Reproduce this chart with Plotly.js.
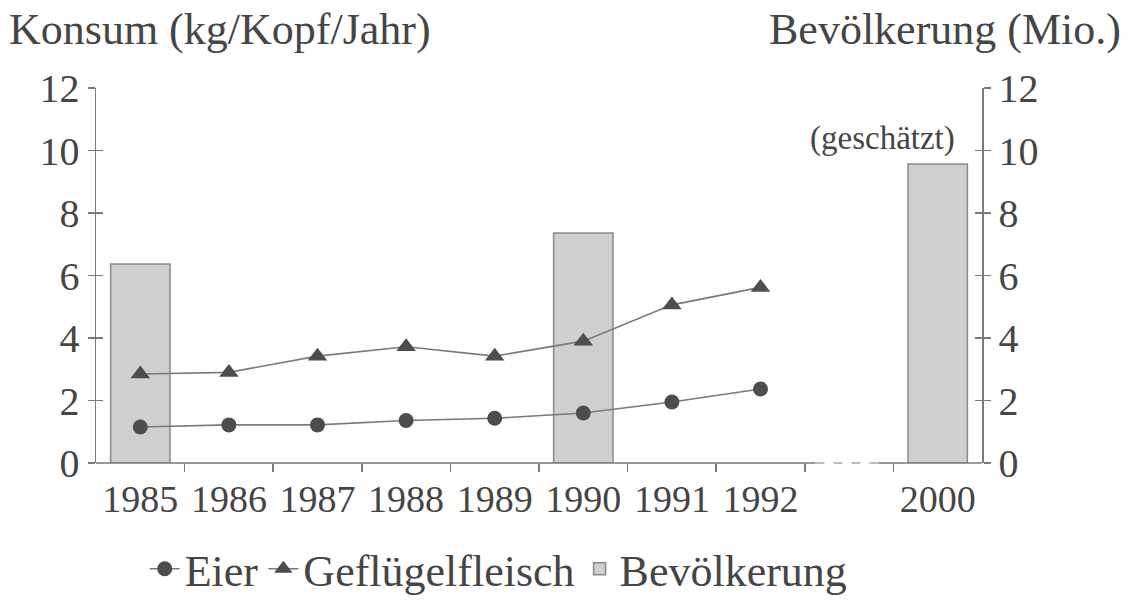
<!DOCTYPE html>
<html>
<head>
<meta charset="utf-8">
<script src="https://cdn.plot.ly/plotly-3.0.1.min.js"></script>
<style>html,body{margin:0;padding:0;background:#fff;}#chart{width:1133px;height:612px;}</style>
</head>
<body>
<div id="chart"></div>
<script>
// Data
const years = ['1985','1986','1987','1988','1989','1990','1991','1992'];
const eier = [1.15, 1.22, 1.22, 1.36, 1.43, 1.6, 1.95, 2.37];
const gefluegel = [2.85, 2.9, 3.42, 3.72, 3.42, 3.9, 5.06, 5.62];
const popYears = ['1985','1990','2000'];
const bevoelkerung = [6.37, 7.36, 9.57];
const xLabels = ['1985','1986','1987','1988','1989','1990','1991','1992','2000'];

// category -> slot on the axis (one empty slot before 2000)
const slot = y => (y === '2000' ? 9 : Number(y) - 1985);
const labelPos = xLabels.map(slot);
const boundaryTicks = [];
for (let i = 0; i <= 8; i++) boundaryTicks.push(i + 0.5);

const textCol = '#454545';
const lineCol = '#7a7a7a';
const serif = 'Liberation Serif, Times New Roman, serif';

const traces = [
  {
    type: 'bar', name: 'Bevölkerung',
    x: popYears.map(slot), y: bevoelkerung,
    xaxis: 'x', yaxis: 'y2', width: 0.67,
    marker: {color: '#cfcfcf', line: {color: '#8a8a8a', width: 1.5}},
    legendrank: 3, hoverinfo: 'skip'
  },
  {
    type: 'scatter', mode: 'lines+markers', name: 'Eier',
    x: years.map(slot), y: eier, xaxis: 'x', yaxis: 'y',
    line: {color: lineCol, width: 1.6},
    marker: {symbol: 'circle', size: 15, color: '#4d4d4d'},
    legendrank: 1
  },
  {
    type: 'scatter', mode: 'lines+markers', name: 'Geflügelfleisch',
    x: years.map(slot), y: gefluegel, xaxis: 'x', yaxis: 'y',
    line: {color: lineCol, width: 1.6},
    marker: {symbol: 'triangle-up', size: 17, color: '#4d4d4d'},
    legendrank: 2
  },
  // invisible helpers so extra tick axes render
  {type: 'scatter', mode: 'markers', x: [0], y: [0], xaxis: 'x2', yaxis: 'y3',
   marker: {opacity: 0}, showlegend: false, hoverinfo: 'skip'},
  {type: 'scatter', mode: 'markers', x: [0], y: [0], xaxis: 'x2', yaxis: 'y4',
   marker: {opacity: 0}, showlegend: false, hoverinfo: 'skip'}
];

const yCommon = {range: [0, 12], dtick: 2, showgrid: false, zeroline: false,
  linecolor: lineCol, linewidth: 1.5, tickcolor: lineCol, tickwidth: 1.5, ticklen: 7,
  tickfont: {family: serif, size: 40, color: textCol}, fixedrange: true};

const layout = {
  width: 1133, height: 612,
  margin: {l: 96, r: 151, t: 88, b: 149, autoexpand: false},
  paper_bgcolor: '#fff', plot_bgcolor: 'rgba(0,0,0,0)',
  font: {family: serif, color: textCol},
  bargap: 0,
  xaxis: {range: [-0.5, 9.5], tickvals: labelPos, ticktext: xLabels, ticks: '',
    showline: false, showgrid: false, zeroline: false, anchor: 'y2',
    tickfont: {family: serif, size: 38, color: textCol}, ticklabelstandoff: 10},
  xaxis2: {overlaying: 'x', range: [-0.5, 9.5], tickvals: boundaryTicks, ticks: 'outside',
    ticklen: 8, tickwidth: 1.5, tickcolor: lineCol, showticklabels: false,
    showline: false, showgrid: false, zeroline: false, anchor: 'y2'},
  yaxis2: Object.assign({}, yCommon, {side: 'right', anchor: 'x', showline: true, ticks: 'outside', ticklabelstandoff: 0}),
  yaxis: Object.assign({}, yCommon, {side: 'left', overlaying: 'y2', anchor: 'x', showline: true, ticks: 'outside', ticklabelstandoff: 0}),
  yaxis3: Object.assign({}, yCommon, {side: 'left', overlaying: 'y2', anchor: 'x2', showline: false, ticks: 'inside', showticklabels: false}),
  yaxis4: Object.assign({}, yCommon, {side: 'right', overlaying: 'y2', anchor: 'x2', showline: false, ticks: 'inside', showticklabels: false}),
  showlegend: true,
  legend: {orientation: 'h', x: 0.055, xanchor: 'left', y: -0.283, yanchor: 'middle',
    font: {family: serif, size: 44, color: textCol}, itemwidth: 30, tracegroupgap: 0,
    bgcolor: 'rgba(0,0,0,0)'},
  shapes: [
    {type: 'line', xref: 'x', yref: 'paper', x0: -0.5, x1: 7.62, y0: 0, y1: 0,
     line: {color: lineCol, width: 1.5}},
    {type: 'line', xref: 'x', yref: 'paper', x0: 7.62, x1: 8.33, y0: 0, y1: 0,
     line: {color: '#a5a5a5', width: 1.5, dash: 'dash'}},
    {type: 'line', xref: 'x', yref: 'paper', x0: 8.33, x1: 9.5, y0: 0, y1: 0,
     line: {color: lineCol, width: 1.5}}
  ],
  annotations: [
    {text: 'Konsum (kg/Kopf/Jahr)', xref: 'paper', yref: 'paper', x: -0.1, xanchor: 'left',
     y: 1.155, yanchor: 'middle', showarrow: false, font: {family: serif, size: 44, color: textCol}},
    {text: 'Bevölkerung (Mio.)', xref: 'paper', yref: 'paper', x: 1.159, xanchor: 'right',
     y: 1.155, yanchor: 'middle', showarrow: false, font: {family: serif, size: 44, color: textCol}},
    {text: '(geschätzt)', xref: 'paper', yref: 'y2', x: 0.972, xanchor: 'right',
     y: 10.4, yanchor: 'middle', showarrow: false, font: {family: serif, size: 33, color: textCol}}
  ]
};

Plotly.newPlot('chart', traces, layout, {displayModeBar: false, staticPlot: true});
</script>
</body>
</html>
